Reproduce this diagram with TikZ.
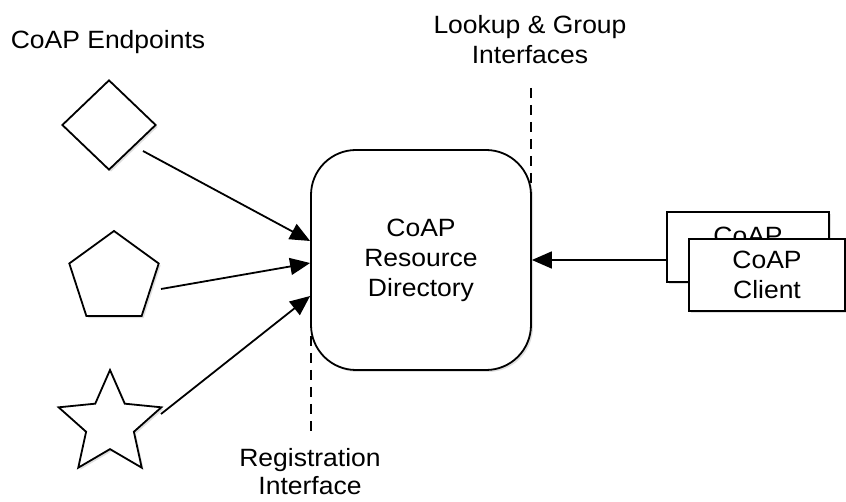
\documentclass[tikz,border=0pt]{standalone}
\usepackage{fontspec}
\setmainfont{Liberation Sans}[FakeStretch=1.06]
\usetikzlibrary{shapes.geometric,arrows.meta,shadows}
\begin{document}
\begin{tikzpicture}[x=1pt,y=-1pt,
  shp/.style={draw, line width=1.8pt, fill=white, inner sep=0pt,
    drop shadow={opacity=0.25, shadow xshift=2pt, shadow yshift=-2pt}},
  lbl/.style={font=\fontsize{25}{30}\selectfont, align=center, inner sep=0pt},
  arr/.style={line width=1.8pt, -{Triangle[length=20pt,width=17pt]}},
  dsh/.style={line width=1.8pt, dash pattern=on 10pt off 7pt}]
\useasboundingbox (0,0) rectangle (846,502);
% labels
\node[lbl] (lep) at (108,42) {CoAP Endpoints};
\node[lbl] (llg) at (530,40) {Lookup \& Group\\Interfaces};
\node[lbl, font=\fontsize{25}{28}\selectfont] (lreg) at (310,472) {Registration\\Interface};
% endpoints
\node[shp, diamond, minimum width=94pt, minimum height=90pt] (ep1) at (109,125) {};
\node[shp, regular polygon, regular polygon sides=5, minimum size=94pt] (ep2) at (114,278) {};
\node[shp, star, star points=5, star point ratio=2.15, minimum size=108pt] (ep3) at (110,424) {};
% dashed interfaces
\coordinate (d1a) at (531,88);
\coordinate (d1b) at (531,186);
\coordinate (d2a) at (311,336);
\coordinate (d2b) at (311,433);
\draw[dsh] (d1a) -- (d1b);
\draw[dsh] (d2a) -- (d2b);
% resource directory
\node[shp, rounded corners=45pt, minimum width=220pt, minimum height=220pt, lbl, draw, line width=1.8pt] (rd) at (421,260) {CoAP\\Resource\\Directory};
% clients
\node[shp, rectangle, minimum width=162pt, minimum height=70pt] (c1) at (748,247) {};
\node[lbl] (c1t) at (748,236) {CoAP};
\node[shp, rectangle, minimum width=156pt, minimum height=72pt, lbl, draw, line width=1.8pt] (c2) at (767,275) {CoAP\\Client};
% arrows
\coordinate (s1) at (143,151);
\coordinate (s2) at (161,289);
\coordinate (s3) at (161,414);
\draw[arr] (s1) -- ([yshift=19pt]rd.west);
\draw[arr] (s2) -- ([yshift=-3pt]rd.west);
\draw[arr] (s3) -- ([yshift=-36pt]rd.west);
\draw[arr] (c1.west |- rd.east) -- (rd.east);
\end{tikzpicture}
\end{document}
